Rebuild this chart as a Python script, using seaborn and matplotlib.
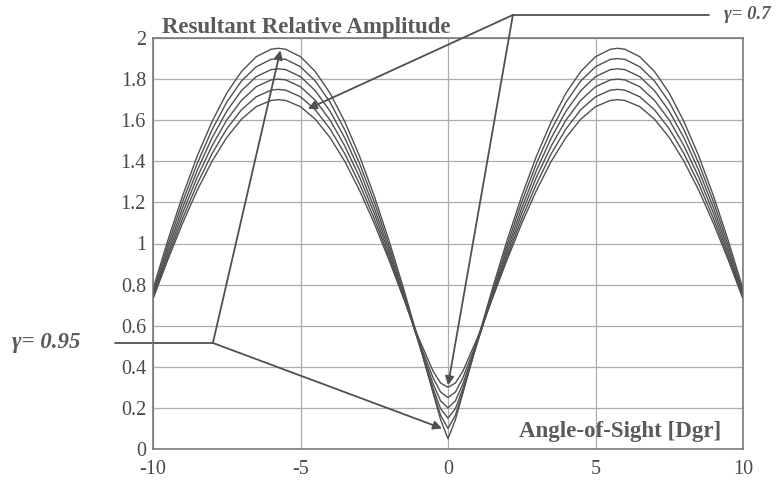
import matplotlib
matplotlib.use("Agg")
import matplotlib.pyplot as plt
import seaborn as sns
import pandas as pd

# ---- data ----
angle = [-10, -9.5, -9, -8.5, -8, -7.5, -7, -6.5, -6, -5.75, -5.5, -5, -4.5, -4, -3.5,
         -3, -2.5, -2, -1.5, -1, -0.5, -0.25, 0, 0.25, 0.5, 1, 1.5, 2, 2.5, 3, 3.5,
         4, 4.5, 5, 5.5, 5.75, 6, 6.5, 7, 7.5, 8, 8.5, 9, 9.5, 10]

gamma_labels = ["0.70", "0.75", "0.80", "0.85", "0.90", "0.95"]

amp_070 = [0.731, 0.920, 1.098, 1.259, 1.400, 1.516, 1.605, 1.666, 1.696, 1.700, 1.696,
           1.666, 1.605, 1.516, 1.400, 1.259, 1.098, 0.920, 0.731, 0.542, 0.377, 0.321,
           0.300, 0.321, 0.377, 0.542, 0.731, 0.920, 1.098, 1.259, 1.400, 1.516, 1.605,
           1.666, 1.696, 1.700, 1.696, 1.666, 1.605, 1.516, 1.400, 1.259, 1.098, 0.920, 0.731]
amp_075 = [0.734, 0.934, 1.121, 1.290, 1.437, 1.558, 1.651, 1.714, 1.746, 1.750, 1.746,
           1.714, 1.651, 1.558, 1.437, 1.290, 1.121, 0.934, 0.734, 0.530, 0.344, 0.277,
           0.250, 0.277, 0.344, 0.530, 0.734, 0.934, 1.121, 1.290, 1.437, 1.558, 1.651,
           1.714, 1.746, 1.750, 1.746, 1.714, 1.651, 1.558, 1.437, 1.290, 1.121, 0.934, 0.734]
amp_080 = [0.740, 0.951, 1.147, 1.323, 1.475, 1.601, 1.697, 1.763, 1.796, 1.800, 1.796,
           1.763, 1.697, 1.601, 1.475, 1.323, 1.147, 0.951, 0.740, 0.522, 0.315, 0.234,
           0.200, 0.234, 0.315, 0.522, 0.740, 0.951, 1.147, 1.323, 1.475, 1.601, 1.697,
           1.763, 1.796, 1.800, 1.796, 1.763, 1.697, 1.601, 1.475, 1.323, 1.147, 0.951, 0.740]
amp_085 = [0.750, 0.970, 1.173, 1.356, 1.514, 1.644, 1.744, 1.812, 1.846, 1.850, 1.846,
           1.812, 1.744, 1.644, 1.514, 1.356, 1.173, 0.970, 0.750, 0.520, 0.292, 0.196,
           0.150, 0.196, 0.292, 0.520, 0.750, 0.970, 1.173, 1.356, 1.514, 1.644, 1.744,
           1.812, 1.846, 1.850, 1.846, 1.812, 1.744, 1.644, 1.514, 1.356, 1.173, 0.970, 0.750]
amp_090 = [0.763, 0.991, 1.202, 1.390, 1.553, 1.688, 1.791, 1.860, 1.896, 1.900, 1.896,
           1.860, 1.791, 1.688, 1.553, 1.390, 1.202, 0.991, 0.763, 0.522, 0.277, 0.164,
           0.100, 0.164, 0.277, 0.522, 0.763, 0.991, 1.202, 1.390, 1.553, 1.688, 1.791,
           1.860, 1.896, 1.900, 1.896, 1.860, 1.791, 1.688, 1.553, 1.390, 1.202, 0.991, 0.763]
amp_095 = [0.778, 1.014, 1.231, 1.426, 1.593, 1.732, 1.837, 1.909, 1.945, 1.950, 1.945,
           1.909, 1.837, 1.732, 1.593, 1.426, 1.231, 1.014, 0.778, 0.528, 0.270, 0.142,
           0.050, 0.142, 0.270, 0.528, 0.778, 1.014, 1.231, 1.426, 1.593, 1.732, 1.837,
           1.909, 1.945, 1.950, 1.945, 1.909, 1.837, 1.732, 1.593, 1.426, 1.231, 1.014, 0.778]

x_ticks = [-10, -5, 0, 5, 10]
x_tick_labels = ["-10", "-5", "0", "5", "10"]
y_ticks = [0, 0.2, 0.4, 0.6, 0.8, 1, 1.2, 1.4, 1.6, 1.8, 2]
y_tick_labels = ["0", "0.2", "0.4", "0.6", "0.8", "1", "1.2", "1.4", "1.6", "1.8", "2"]

title_text = "Resultant Relative Amplitude"
xlabel_text = "Angle-of-Sight [Dgr]"
label_low = "\u03b3= 0.7"
label_high = "\u03b3= 0.95"

# ---- long-form table ----
series = [amp_070, amp_075, amp_080, amp_085, amp_090, amp_095]
frames = []
for g, vals in zip(gamma_labels, series):
    frames.append(pd.DataFrame({"angle": angle, "amp": vals, "gamma": g}))
df = pd.concat(frames, ignore_index=True)

# ---- styling ----
sns.set_style("white")
plt.rcParams["font.family"] = ["Liberation Serif", "DejaVu Serif"]

ink = "#505050"
grid_c = "#adadad"

fig = plt.figure(figsize=(7.81, 4.82), dpi=100)
ax = fig.add_axes([153 / 781, 33 / 482, 590 / 781, 411 / 482])

sns.lineplot(data=df, x="angle", y="amp", hue="gamma",
             palette=[ink] * len(gamma_labels), legend=False, sort=False,
             linewidth=1.0, ax=ax, estimator=None)

ax.set_xlim(-10, 10)
ax.set_ylim(0, 2)
ax.set_xticks(x_ticks)
ax.set_xticklabels(x_tick_labels)
ax.set_yticks(y_ticks)
ax.set_yticklabels(y_tick_labels)
ax.set_xlabel("")
ax.set_ylabel("")
ax.tick_params(axis="both", length=0, labelsize=14.5, colors="#4a4a4a")
ax.tick_params(axis="x", pad=8)
ax.tick_params(axis="y", pad=5)
ax.grid(True, color=grid_c, linewidth=0.9)
ax.set_axisbelow(True)
for sp in ax.spines.values():
    sp.set_color("#707070")
    sp.set_linewidth(1.1)

# ---- texts ----
ax.text(-4.8, 2.022, title_text, ha="center", va="baseline", fontsize=16.5,
        fontweight="bold", color="#5a5a5a", clip_on=False)
ax.text(5.85, 0.058, xlabel_text, ha="center", va="baseline", fontsize=16.5,
        fontweight="bold", color="#5a5a5a")
ax.text(9.35, 2.112, label_low, ha="left", va="center", fontsize=13.5,
        fontweight="bold", fontstyle="italic", color="#5a5a5a", clip_on=False)
ax.text(-14.78, 0.516, label_high, ha="left", va="center", fontsize=16.5,
        fontweight="bold", fontstyle="italic", color="#5a5a5a", clip_on=False)

# leader lines
lead_kw = dict(color=ink, linewidth=1.3, clip_on=False)
ax.plot([2.2, 8.85], [2.112, 2.112], **lead_kw)
ax.plot([-11.3, -7.97], [0.516, 0.516], **lead_kw)

arrow_kw = dict(arrowstyle="-|>", color=ink, lw=1.3, mutation_scale=13,
                shrinkA=0, shrinkB=0)
ax.annotate("", xy=(-4.75, 1.655), xytext=(2.2, 2.112),
            arrowprops=arrow_kw, annotation_clip=False)
ax.annotate("", xy=(0.0, 0.31), xytext=(2.2, 2.112),
            arrowprops=arrow_kw, annotation_clip=False)
ax.annotate("", xy=(-5.68, 1.94), xytext=(-7.97, 0.516),
            arrowprops=arrow_kw, annotation_clip=False)
ax.annotate("", xy=(-0.2, 0.1), xytext=(-7.97, 0.516),
            arrowprops=arrow_kw, annotation_clip=False)

fig.savefig("out.png", dpi=100)
